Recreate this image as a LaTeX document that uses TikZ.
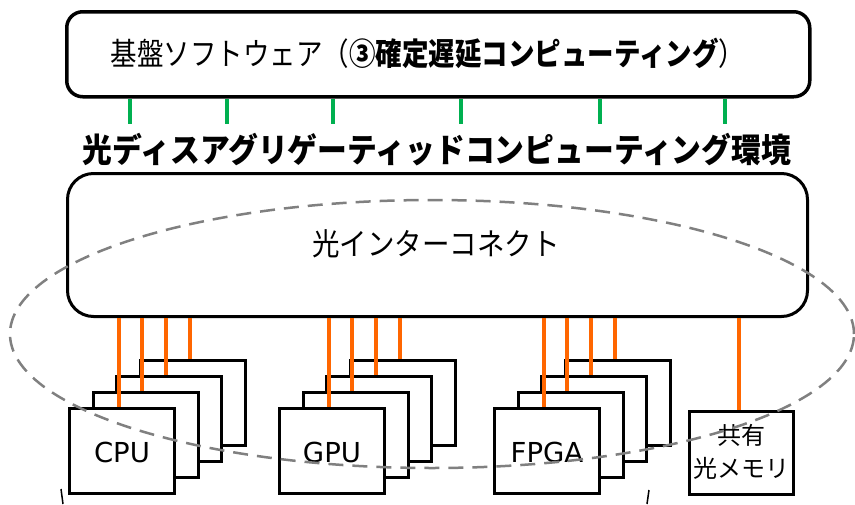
\documentclass[tikz,border=0pt]{standalone}
\usepackage{fontspec}
\usetikzlibrary{shapes.geometric}
\newfontfamily\jp{Noto Sans CJK JP}
\newfontfamily\lat{DejaVu Sans}
\definecolor{lgreen}{HTML}{00B050}
\definecolor{lorange}{HTML}{FF6600}
\definecolor{dgray}{HTML}{808080}
\tikzset{
  card/.style={draw=black, line width=3pt, fill=white, minimum width=105pt, minimum height=85pt, anchor=north west, inner sep=0pt},
  oline/.style={draw=lorange, line width=4pt},
  gline/.style={draw=lgreen, line width=4pt},
  bigbox/.style={draw=black, line width=3.5pt, fill=white, anchor=north west, inner sep=0pt},
  cardtext/.style={font=\lat\fontsize{27.5}{30}\selectfont},
}
\begin{document}
\begin{tikzpicture}[x=1pt,y=-1pt]
\useasboundingbox (0,0) rectangle (855,504);
% top box
\node[bigbox, rounded corners=16pt, minimum width=743pt, minimum height=85pt] (sw) at (65,10) {};
\node[font=\jp\fontsize{26.5}{30}\selectfont] (swt) at (428,53) {\scalebox{1}[1.18]{基盤ソフトウェア（\textbf{③確定遅延コンピューティング}）}};
% green lines
\foreach \i/\x in {1/130,2/227,3/333,4/461,5/600,6/725}{
  \coordinate (g\i) at (\x,124);
  \draw[gline] (g\i |- sw.south) -- (g\i);
}
% title
\node[font=\jp\bfseries\fontsize{29.8}{32}\selectfont] (tit) at (437,150) {\scalebox{1}[1.12]{光ディスアグリゲーティッドコンピューティング環境}};
% interconnect
\node[bigbox, line width=3pt, rounded corners=26pt, minimum width=740pt, minimum height=143pt] (ic) at (66,172) {};
\node[font=\jp\fontsize{27.5}{30}\selectfont] (ict) at (436,244) {\scalebox{1}[1.12]{光インターコネクト}};
% card groups
\foreach \g/\X/\lab in {cpu/68/CPU, gpu/278/GPU, fpga/493/FPGA}{
  \foreach \k in {3,2,1,0}{
    \node[card] (\g\k) at ({\X+23.7*\k},{407-16*\k}) {};
  }
  \node[cardtext] (\g t) at ([yshift=-1pt]\g0.center) {\lab};
  \foreach \k in {0,1,2,3}{
    \coordinate (\g c\k) at ([xshift=50.5pt]\g\k.north west);
    \draw[oline] (\g c\k |- ic.south) -- (\g c\k);
  }
}
% shared memory
\node[card, minimum width=104pt, minimum height=83pt] (mem) at (688,410) {};
\node[font=\jp\fontsize{24}{33}\selectfont, align=center] (memt) at ([yshift=1pt]mem.center) {共有\\光メモリ};
\coordinate (memc) at ([xshift=51pt]mem.north west);
\draw[oline] (memc |- ic.south) -- (memc);
% dashed ellipse
\node[draw=dgray, line width=2.5pt, dash pattern=on 15pt off 9pt, ellipse, minimum width=844pt, minimum height=268pt, inner sep=0pt] (ell) at (432,334) {};
% brace fragments
\coordinate (bl1) at (61,489);
\coordinate (bl2) at (63,504);
\coordinate (br1) at (649,490);
\coordinate (br2) at (647,504);
\draw[line width=1.5pt] (bl1) .. controls (61.5,497) .. (bl2);
\draw[line width=1.5pt] (br1) .. controls (648.5,497) .. (br2);
\end{tikzpicture}
\end{document}
